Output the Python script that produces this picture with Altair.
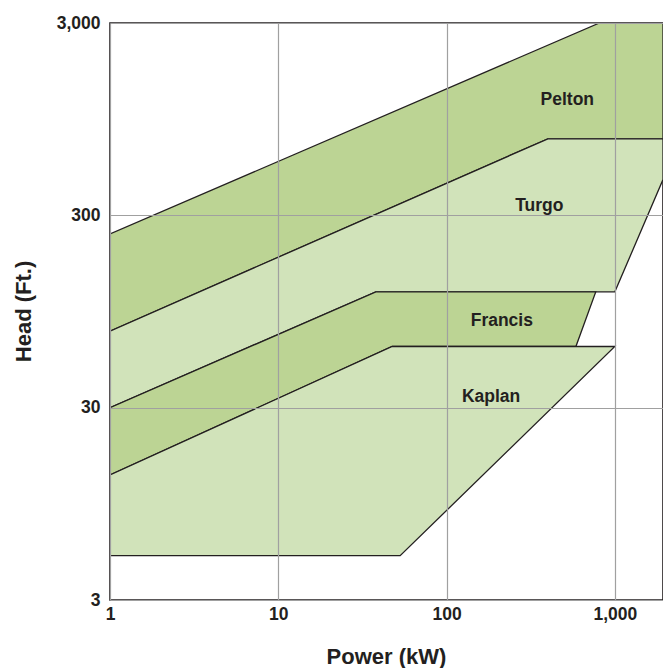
import altair as alt
import pandas as pd

# Region polygons (Power kW, Head Ft.)
pelton_kw = [1, 810, 1933, 1933, 400, 1, 1]
pelton_ft = [240, 3000, 3000, 750, 750, 75, 240]
turgo_kw = [1, 400, 1933, 1933, 1000, 38, 1, 1]
turgo_ft = [75, 750, 750, 460, 120, 120, 30, 75]
francis_kw = [1, 38, 770, 587, 47.5, 1, 1]
francis_ft = [30, 120, 120, 62.4, 62.4, 13.4, 30]
kaplan_kw = [1, 47.5, 1000, 53, 1, 1]
kaplan_ft = [13.4, 62.4, 62.4, 5.1, 5.1, 13.4]

label_names = ["Pelton", "Turgo", "Francis", "Kaplan"]
label_kw = [522, 356, 213, 184]
label_ft = [1197, 336, 85, 34]

x_ticks = [1, 10, 100, 1000]
y_ticks = [3, 30, 300, 3000]

DARK = "#bcd494"
LIGHT = "#d1e3ba"
INK = "#231f20"
FONT = "Liberation Sans"

xscale = alt.Scale(type="log", domain=[1, 1933], nice=False)
yscale = alt.Scale(type="log", domain=[3, 3000], nice=False)

xaxis = alt.Axis(values=x_ticks, format=",", title="Power (kW)", grid=True,
                 gridColor="#a0a0a0", gridWidth=1.2, domain=False, ticks=False,
                 labelFont=FONT, labelFontWeight="bold", labelFontSize=17.5,
                 labelColor=INK, labelPadding=5, labelFlush=False,
                 titleFont=FONT, titleFontWeight="bold", titleFontSize=22,
                 titleColor=INK, titleX=276, titleY=63, titleBaseline="alphabetic",
                 titleAlign="center", zindex=1)
yaxis = alt.Axis(values=y_ticks, format=",", title="Head (Ft.)", grid=True,
                 gridColor="#a0a0a0", gridWidth=1.2, domain=False, ticks=False,
                 labelFont=FONT, labelFontWeight="bold", labelFontSize=17.5,
                 labelColor=INK, labelPadding=10, labelFlush=False,
                 titleFont=FONT, titleFontWeight="bold", titleFontSize=22,
                 titleColor=INK, titleX=-87, titleY=288, titleBaseline="middle",
                 titleAlign="center", titleAngle=-90, zindex=1)


def poly(kw, ft, fill, first=False):
    df = pd.DataFrame({"kw": kw, "ft": ft, "i": list(range(len(kw)))})
    if first:
        x = alt.X("kw:Q", scale=xscale, axis=xaxis)
        y = alt.Y("ft:Q", scale=yscale, axis=yaxis)
    else:
        x = alt.X("kw:Q", scale=xscale)
        y = alt.Y("ft:Q", scale=yscale)
    return alt.Chart(df).mark_line(fill=fill, stroke=INK, strokeWidth=1.3,
                                   clip=True, strokeJoin="miter").encode(
        x=x, y=y, order="i:Q")


labels = alt.Chart(pd.DataFrame({"name": label_names, "kw": label_kw, "ft": label_ft})).mark_text(
    font=FONT, fontWeight="bold", fontSize=17.5, color=INK
).encode(x=alt.X("kw:Q", scale=xscale), y=alt.Y("ft:Q", scale=yscale), text="name:N")

chart = alt.layer(
    poly(pelton_kw, pelton_ft, DARK, first=True),
    poly(turgo_kw, turgo_ft, LIGHT),
    poly(francis_kw, francis_ft, DARK),
    poly(kaplan_kw, kaplan_ft, LIGHT),
    labels,
).properties(
    width=553, height=577,
    autosize=alt.AutoSizeParams(type="none"),
    padding={"left": 102, "top": 15, "right": 0, "bottom": 68},
).configure_view(stroke=INK, strokeWidth=1.6)

chart.save("out.html", embed_options={"renderer": "svg", "actions": False})
